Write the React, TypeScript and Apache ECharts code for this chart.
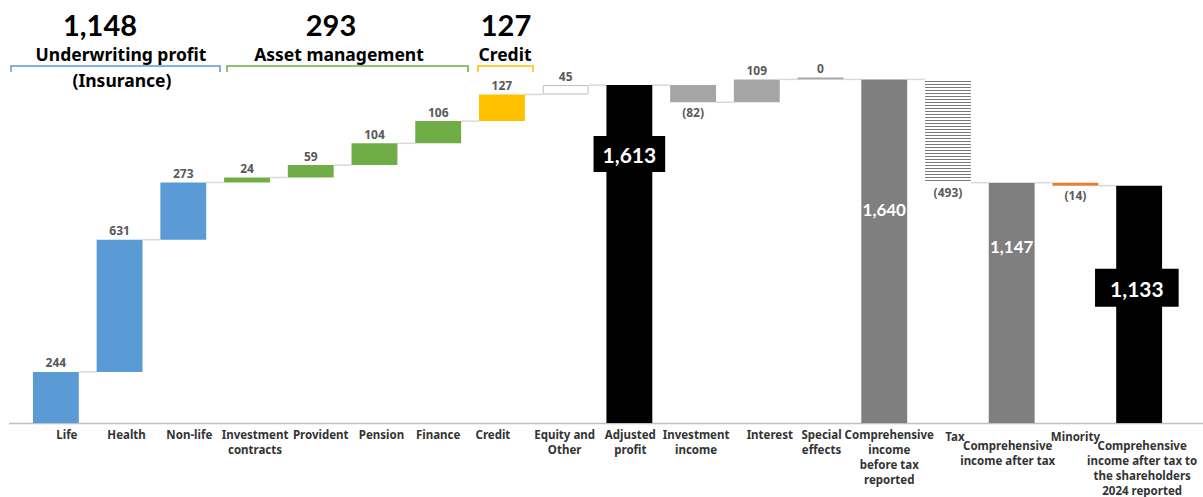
import React, { useEffect, useRef } from 'react';
import * as echarts from 'echarts';

const categories = [
  'Life', 'Health', 'Non-life', 'Investment contracts', 'Provident', 'Pension', 'Finance', 'Credit',
  'Equity and Other', 'Adjusted profit', 'Investment income', 'Interest', 'Special effects',
  'Comprehensive income before tax reported', 'Tax', 'Comprehensive income after tax', 'Minority',
  'Comprehensive income after tax to the shareholders 2024 reported',
];
const tickLabels = [
  'Life', 'Health', 'Non-life', 'Investment\ncontracts', 'Provident', 'Pension', 'Finance', 'Credit',
  'Equity and\nOther', 'Adjusted\nprofit', 'Investment\nincome', 'Interest', 'Special\neffects',
  'Comprehensive\nincome\nbefore tax\nreported', 'Tax', 'Comprehensive\nincome after tax', 'Minority',
  'Comprehensive\nincome after tax to\nthe shareholders\n2024 reported',
];
const values = [244, 631, 273, 24, 59, 104, 106, 127, 45, 1613, -82, 109, 0, 1640, -493, 1147, -14, 1133];
const isTotal = [false, false, false, false, false, false, false, false, false, true, false, false, false, true, false, true, false, true];
const barColors = [
  '#5B9BD5', '#5B9BD5', '#5B9BD5', '#70AD47', '#70AD47', '#70AD47', '#70AD47', '#FFC000',
  '#FFFFFF', '#000000', '#A5A5A5', '#A5A5A5', '#A5A5A5', '#7F7F7F', 'hatch', '#7F7F7F', '#ED7D31', '#000000',
];
const groupNames = ['Underwriting profit', 'Asset management', 'Credit'];
const groupSubNames = ['(Insurance)', '', ''];
const groupRanges = [[0, 2], [3, 6], [7, 7]];
const groupColors = ['#5B9BD5', '#70AD47', '#FFC000'];

// label offsets (dx, dy) for category labels
const labelDx = [11, 7, 6, 8, 10, 7, 0, -9, -1, 1, 3, 13, 1, 5, 7, -4, 0, 3];
const labelDy = [0, 0, 0, 0, 0, 0, 0, 0, 0, 0, 0, 0, 0, 0, 2, 11, 2, 11];

const FONT = '"Noto Sans", sans-serif';
const FONT_TOTAL = 'Lato, "Noto Sans", sans-serif';
const fmt = (v: number) => Math.abs(v).toLocaleString('en-US');

export default function App() {
  const ref = useRef<HTMLDivElement>(null);
  useEffect(() => {
    if (!ref.current) return;
    const chart = echarts.init(ref.current, undefined, { renderer: 'svg' });

    const c = document.createElement('canvas');
    c.width = 4; c.height = 3;
    const ctx = c.getContext('2d')!;
    ctx.fillStyle = '#ffffff'; ctx.fillRect(0, 0, 4, 3);
    ctx.fillStyle = '#7a7a7a'; ctx.fillRect(0, 0, 4, 1);
    const hatch = { image: c, repeat: 'repeat', imageWidth: 4, imageHeight: 3 };

    const base: number[] = [];
    const vis: number[] = [];
    const level: number[] = [];
    let run = 0;
    values.forEach((v, i) => {
      if (isTotal[i]) { base.push(0); vis.push(v); run = v; }
      else if (v >= 0) { base.push(run); vis.push(v); run += v; }
      else { run += v; base.push(run); vis.push(-v); }
      level.push(run);
    });

    const valueLabel = { color: '#595959', fontWeight: 'bold', fontSize: 12, fontFamily: FONT };
    const totalLabels: Record<number, any> = {
      9: { show: true, position: ['50%', 51], align: 'center', verticalAlign: 'top', color: '#fff', fontWeight: 'bold', fontSize: 21, fontFamily: FONT_TOTAL, backgroundColor: '#000', padding: [8, 9, 7, 9], lineHeight: 21 },
      13: { show: true, position: ['50%', 122], align: 'center', verticalAlign: 'top', color: '#fff', fontWeight: 'bold', fontSize: 17, fontFamily: FONT_TOTAL },
      15: { show: true, position: ['50%', 55], align: 'center', verticalAlign: 'top', color: '#fff', fontWeight: 'bold', fontSize: 17, fontFamily: FONT_TOTAL },
      17: { show: true, position: ['45%', 83], align: 'center', verticalAlign: 'top', color: '#fff', fontWeight: 'bold', fontSize: 21, fontFamily: FONT_TOTAL, backgroundColor: '#000', padding: [9, 15, 8, 15], lineHeight: 21 },
    };

    const visData = vis.map((v, i) => {
      const col = barColors[i];
      const itemStyle: any = col === 'hatch' ? { color: hatch } : { color: col };
      if (col === '#FFFFFF') { itemStyle.borderColor = '#BFBFBF'; itemStyle.borderWidth = 1; }
      let label: any;
      if (isTotal[i]) label = { ...totalLabels[i], formatter: fmt(values[i]) };
      else if (values[i] >= 0) label = { show: true, position: 'top', distance: 3, formatter: fmt(values[i]), ...valueLabel };
      else label = { show: true, position: 'bottom', distance: 4, formatter: `(${fmt(values[i])})`, ...valueLabel };
      return { value: v, itemStyle, label };
    });

    const rich: Record<string, any> = {};
    tickLabels.forEach((_, i) => {
      const dx = labelDx[i];
      const common = { fontFamily: FONT, fontWeight: 'bold', fontSize: 11.5, color: '#333', lineHeight: 15 };
      rich['n' + i] = { ...common, padding: dx >= 0 ? [0, 0, 0, 2 * dx] : [0, -2 * dx, 0, 0] };
      rich['s' + i] = { ...common, fontSize: 4, lineHeight: Math.max(labelDy[i], 1) };
    });

    const graphics: any[] = [];
    const hdr = [
      { total: 100, name: 121, sub: 122, b0: 11, b1: 220 },
      { total: 331, name: 339, sub: 339, b0: 227, b1: 468 },
      { total: 506, name: 505, sub: 505, b0: 478, b1: 533 },
    ];
    groupNames.forEach((g, k) => {
      const [a, b] = groupRanges[k];
      let s = 0;
      for (let j = a; j <= b; j++) s += values[j];
      const h = hdr[k];
      graphics.push({ type: 'text', style: { text: s.toLocaleString('en-US'), x: h.total, y: 24.5, textAlign: 'center', textVerticalAlign: 'middle', fill: '#000', fontSize: 29, fontWeight: 'bold', fontFamily: FONT_TOTAL } });
      graphics.push({ type: 'text', style: { text: g, x: h.name, y: 54, textAlign: 'center', textVerticalAlign: 'middle', fill: '#000', fontSize: 17.5, fontWeight: 'bold', fontFamily: FONT } });
      if (groupSubNames[k]) graphics.push({ type: 'text', style: { text: groupSubNames[k], x: h.sub, y: 80, textAlign: 'center', textVerticalAlign: 'middle', fill: '#000', fontSize: 17.5, fontWeight: 'bold', fontFamily: FONT } });
      graphics.push({ type: 'polyline', shape: { points: [[h.b0, 72], [h.b0, 66], [h.b1, 66], [h.b1, 72]] }, style: { stroke: groupColors[k], lineWidth: 1.5, fill: 'none' } });
    });
    graphics.push({ type: 'line', shape: { x1: 9, y1: 423.5, x2: 1203, y2: 423.5 }, style: { stroke: '#BFBFBF', lineWidth: 1.5 }, z: 0 });

    chart.setOption({
      animation: false,
      grid: { left: 24, right: 32, top: 4, bottom: 74 },
      xAxis: {
        type: 'category',
        data: categories,
        axisLine: { show: false },
        axisTick: { show: false },
        axisLabel: {
          interval: 0,
          margin: 4,
          formatter: (_v: string, i: number) => {
            const lines = tickLabels[i].split('\n').map((l) => `{n${i}|${l}}`);
            if (labelDy[i] > 0) lines.unshift(`{s${i}| }`);
            return lines.join('\n');
          },
          rich,
        },
      },
      yAxis: { type: 'value', min: 0, max: 2000, show: false, splitLine: { show: false } },
      graphic: graphics,
      series: [
        {
          type: 'custom',
          z: 1,
          silent: true,
          renderItem: (params: any, api: any) => {
            const i = api.value(0);
            if (i >= categories.length - 1) return null;
            const lvl = api.value(1);
            const p0 = api.coord([i, lvl]);
            const p1 = api.coord([i + 1, lvl]);
            const hw = api.size([1, 0])[0] * 0.72 / 2;
            return { type: 'line', shape: { x1: p0[0] + hw, y1: p0[1], x2: p1[0] - hw, y2: p1[1] }, style: { stroke: '#D9D9D9', lineWidth: 1.5 } };
          },
          data: level.map((l, i) => [i, l]),
        },
        { type: 'bar', stack: 'w', silent: true, barWidth: '72%', itemStyle: { color: 'transparent' }, data: base, z: 2 },
        { type: 'bar', stack: 'w', barWidth: '72%', barMinHeight: 2, data: visData, z: 3 },
      ],
    });
    return () => chart.dispose();
  }, []);
  return <div ref={ref} style={{ position: 'absolute', left: 0, top: 0, width: 1203, height: 497 }} />;
}
